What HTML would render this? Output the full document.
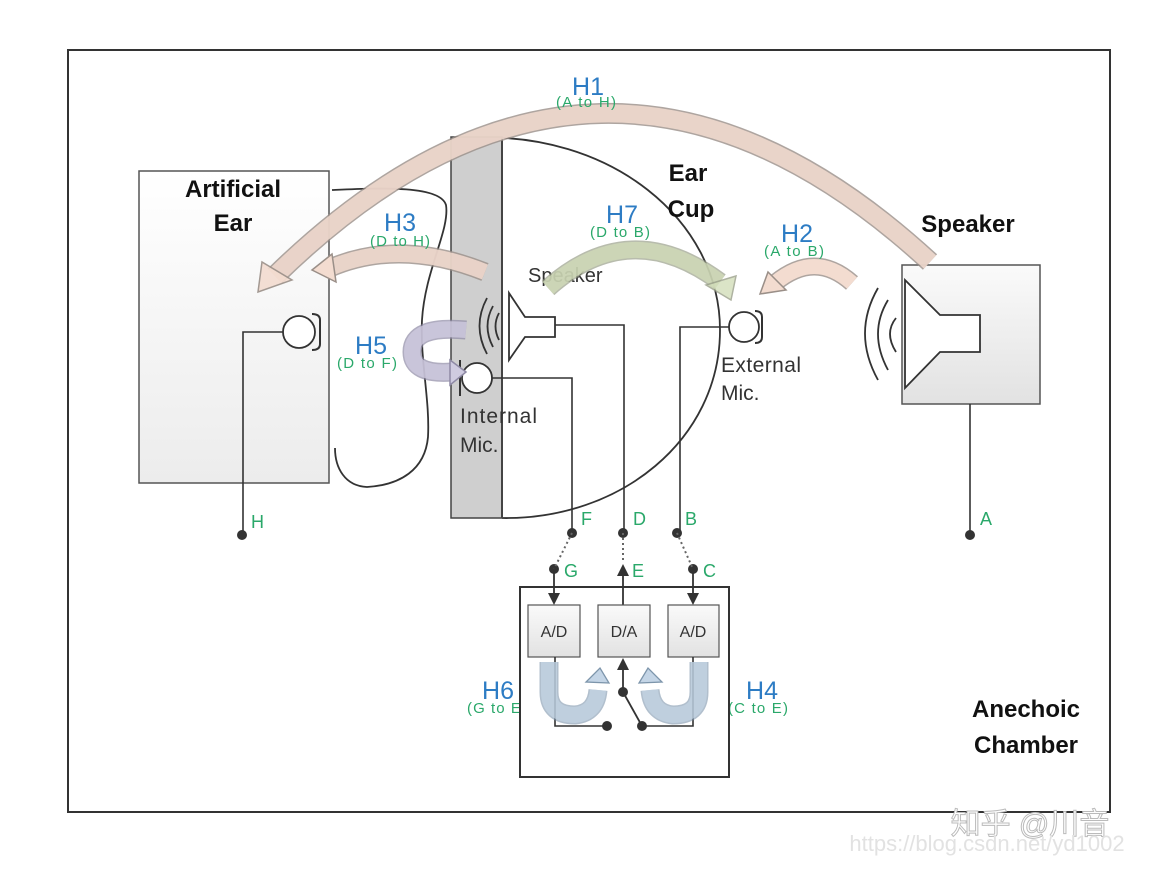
<!DOCTYPE html>
<html><head><meta charset="utf-8"><style>
html,body{margin:0;padding:0;background:#fff;}
svg{display:block;}
text{font-family:"Liberation Sans","Noto Sans CJK SC",sans-serif;}
</style></head><body>
<svg width="1152" height="872" viewBox="0 0 1152 872" xmlns="http://www.w3.org/2000/svg">
<defs>
<linearGradient id="g1" x1="0" y1="0" x2="0" y2="1"><stop offset="0" stop-color="#ffffff"/><stop offset="1" stop-color="#ececec"/></linearGradient>
<linearGradient id="g2" x1="0" y1="0" x2="0" y2="1"><stop offset="0" stop-color="#fafafa"/><stop offset="1" stop-color="#e2e2e2"/></linearGradient>
</defs>
<rect x="0" y="0" width="1152" height="872" fill="#fff"/>
<rect x="68" y="50" width="1042" height="762" fill="#fff" stroke="#333" stroke-width="2"/>

<rect x="139" y="171" width="190" height="312" fill="url(#g1)" stroke="#555" stroke-width="1.5"/>
<text x="233" y="197" font-size="24" font-weight="bold" text-anchor="middle" fill="#111">Artificial</text>
<text x="233" y="231" font-size="24" font-weight="bold" text-anchor="middle" fill="#111">Ear</text>

<path d="M332 190 C380 188 440 185 446 205 C450 230 425 270 422 320 C420 360 430 400 428 437 C425 470 400 485 367 487 C345 486 335 468 335 448" fill="none" stroke="#333" stroke-width="1.8"/>

<path d="M470 138 C610 130 720 220 720 330 C720 440 620 520 502 518" fill="none" stroke="#333" stroke-width="1.8"/>
<rect x="451" y="137" width="51" height="381" fill="#cfcfcf" stroke="#444" stroke-width="1.5"/>
<line x1="502" y1="137" x2="502" y2="518" stroke="#444" stroke-width="2"/>
<text x="688" y="181" font-size="24" font-weight="bold" text-anchor="middle" fill="#111">Ear</text>
<text x="691" y="217" font-size="24" font-weight="bold" text-anchor="middle" fill="#111">Cup</text>

<polygon points="509,293 525,317 555,317 555,337 525,337 509,360" fill="#fff" stroke="#333" stroke-width="1.8"/>
<path d="M499 313 Q492 326 499 340 M493 306 Q482 326 493 347 M487 298 Q472 326 487 354" fill="none" stroke="#333" stroke-width="1.8"/>
<polyline points="555,325 624,325 624,533" fill="none" stroke="#333" stroke-width="1.6"/>
<text x="528" y="282" font-size="20" fill="#333">Speaker</text>

<line x1="460" y1="360" x2="460" y2="396" stroke="#333" stroke-width="2"/>
<circle cx="477" cy="378" r="15" fill="#fff" stroke="#333" stroke-width="1.8"/>
<polyline points="492,378 572,378 572,533" fill="none" stroke="#333" stroke-width="1.6"/>
<text x="460" y="423" font-size="21" fill="#333" textLength="77">Internal</text>
<text x="460" y="452" font-size="21" fill="#333">Mic.</text>

<circle cx="299" cy="332" r="16" fill="#fff" stroke="#333" stroke-width="1.8"/>
<path d="M312 314 Q320 314 320 320 L320 344 Q320 350 312 350" fill="none" stroke="#333" stroke-width="2"/>
<polyline points="283,332 243,332 243,535" fill="none" stroke="#333" stroke-width="1.6"/>

<circle cx="744" cy="327" r="15" fill="#fff" stroke="#333" stroke-width="1.8"/>
<path d="M755 311 Q762 311 762 317 L762 337 Q762 343 755 343" fill="none" stroke="#333" stroke-width="2"/>
<polyline points="729,327 680,327 680,533" fill="none" stroke="#333" stroke-width="1.6"/>
<text x="721" y="372" font-size="21" fill="#333" textLength="80">External</text>
<text x="721" y="400" font-size="21" fill="#333">Mic.</text>

<rect x="902" y="265" width="138" height="139" fill="url(#g2)" stroke="#555" stroke-width="1.5"/>
<polygon points="905,280 940,315 980,315 980,352 940,352 905,388" fill="#fff" stroke="#333" stroke-width="1.8"/>
<path d="M896 318 Q884 333 896 352 M888 300 Q868 333 888 370 M878 288 Q852 333 878 380" fill="none" stroke="#333" stroke-width="1.8"/>
<line x1="970" y1="404" x2="970" y2="535" stroke="#333" stroke-width="1.6"/>
<text x="968" y="232" font-size="24" font-weight="bold" text-anchor="middle" fill="#111">Speaker</text>

<path d="M930 262 Q600 -42 275 276" fill="none" stroke="#9a8f88" stroke-width="21" opacity="0.8"/>
<path d="M930 262 Q600 -42 275 276" fill="none" stroke="#f3dcd0" stroke-width="18" opacity="0.85"/>
<polygon points="258,292 262,262 292,280" fill="#f3dcd0" stroke="#9a8f88" stroke-width="1.5" opacity="0.9"/>
<path d="M485 272 Q400 238 330 268" fill="none" stroke="#9a8f88" stroke-width="19" opacity="0.8"/>
<path d="M485 272 Q400 238 330 268" fill="none" stroke="#f3dcd0" stroke-width="16" opacity="0.85"/>
<polygon points="312,270 332,254 336,282" fill="#f3dcd0" stroke="#9a8f88" stroke-width="1.5"/>
<path d="M548 288 Q630 215 720 282" fill="none" stroke="#9aa08a" stroke-width="19" opacity="0.7"/>
<path d="M548 288 Q630 215 720 282" fill="none" stroke="#d3deba" stroke-width="16" opacity="0.75"/>
<polygon points="731,300 706,285 736,276" fill="#d3deba" stroke="#9aa08a" stroke-width="1.5" opacity="0.8"/>
<path d="M852 283 Q815 250 775 283" fill="none" stroke="#9a8f88" stroke-width="18" opacity="0.8"/>
<path d="M852 283 Q815 250 775 283" fill="none" stroke="#f3dcd0" stroke-width="15"/>
<polygon points="760,294 768,272 786,290" fill="#f3dcd0" stroke="#9a8f88" stroke-width="1.5"/>
<path d="M466 330 Q412 325 412 352 Q412 375 452 372" fill="none" stroke="#8f8aa5" stroke-width="19" opacity="0.7"/>
<path d="M466 330 Q412 325 412 352 Q412 375 452 372" fill="none" stroke="#cfcbe0" stroke-width="16" opacity="0.8"/>
<polygon points="466,372 450,360 450,385" fill="#cfcbe0" stroke="#8f8aa5" stroke-width="1.5"/>

<g fill="#2d7cc4" font-size="25" text-anchor="middle">
<text x="588" y="95">H1</text><text x="400" y="231">H3</text><text x="622" y="223">H7</text>
<text x="797" y="242">H2</text><text x="371" y="354">H5</text><text x="498" y="699">H6</text><text x="762" y="699">H4</text>
</g>
<g fill="#2aa86a" font-size="15" text-anchor="middle">
<text x="586" y="107" textLength="60">(A to H)</text><text x="400" y="246" textLength="60">(D to H)</text><text x="620" y="237" textLength="60">(D to B)</text>
<text x="794" y="256" textLength="60">(A to B)</text><text x="367" y="368" textLength="60">(D to F)</text><text x="497" y="713" textLength="60">(G to E)</text><text x="758" y="713" textLength="60">(C to E)</text>
</g>
<g fill="#2aa86a" font-size="18">
<text x="251" y="528">H</text><text x="581" y="525">F</text><text x="633" y="525">D</text><text x="685" y="525">B</text><text x="980" y="525">A</text>
<text x="564" y="577">G</text><text x="632" y="577">E</text><text x="703" y="577">C</text>
</g>

<g fill="#333">
<circle cx="242" cy="535" r="5"/><circle cx="970" cy="535" r="5"/>
<circle cx="572" cy="533" r="5"/><circle cx="623" cy="533" r="5"/><circle cx="677" cy="533" r="5"/>
<circle cx="554" cy="569" r="5"/><circle cx="693" cy="569" r="5"/>
</g>
<g stroke="#666" stroke-width="2" stroke-dasharray="2,3" fill="none">
<line x1="572" y1="533" x2="554" y2="569"/><line x1="623" y1="533" x2="623" y2="560"/><line x1="677" y1="533" x2="693" y2="569"/>
</g>

<rect x="520" y="587" width="209" height="190" fill="#fff" stroke="#333" stroke-width="2"/>
<line x1="554" y1="569" x2="554" y2="595" stroke="#333" stroke-width="1.8"/>
<polygon points="548,593 560,593 554,605" fill="#333"/>
<line x1="693" y1="569" x2="693" y2="595" stroke="#333" stroke-width="1.8"/>
<polygon points="687,593 699,593 693,605" fill="#333"/>
<line x1="623" y1="605" x2="623" y2="574" stroke="#333" stroke-width="1.8"/>
<polygon points="617,576 629,576 623,564" fill="#333"/>
<rect x="528" y="605" width="52" height="52" fill="url(#g2)" stroke="#555" stroke-width="1.2"/>
<rect x="598" y="605" width="52" height="52" fill="url(#g2)" stroke="#555" stroke-width="1.2"/>
<rect x="668" y="605" width="51" height="52" fill="url(#g2)" stroke="#555" stroke-width="1.2"/>
<g font-size="16" fill="#333" text-anchor="middle">
<text x="554" y="637">A/D</text><text x="624" y="637">D/A</text><text x="693" y="637">A/D</text>
</g>
<polyline points="555,657 555,726 607,726" fill="none" stroke="#333" stroke-width="1.6"/>
<polyline points="693,657 693,726 642,726" fill="none" stroke="#333" stroke-width="1.6"/>
<line x1="642" y1="726" x2="623" y2="692" stroke="#333" stroke-width="1.8"/>
<line x1="623" y1="692" x2="623" y2="668" stroke="#333" stroke-width="1.8"/>
<polygon points="617,670 629,670 623,658" fill="#333"/>
<g fill="#333"><circle cx="607" cy="726" r="5"/><circle cx="642" cy="726" r="5"/><circle cx="623" cy="692" r="5"/></g>
<path d="M549 662 L549 692 Q549 715 575 715 Q596 713 598 690" fill="none" stroke="#7d95ab" stroke-width="19" opacity="0.6"/>
<path d="M549 662 L549 692 Q549 715 575 715 Q596 713 598 690" fill="none" stroke="#c4d5e6" stroke-width="16" opacity="0.7"/>
<polygon points="609,683 586,682 600,668" fill="#c4d5e6" stroke="#7d95ab" stroke-width="1.3"/>
<path d="M699 662 L699 692 Q699 715 673 715 Q652 713 650 690" fill="none" stroke="#7d95ab" stroke-width="19" opacity="0.6"/>
<path d="M699 662 L699 692 Q699 715 673 715 Q652 713 650 690" fill="none" stroke="#c4d5e6" stroke-width="16" opacity="0.7"/>
<polygon points="639,683 662,682 648,668" fill="#c4d5e6" stroke="#7d95ab" stroke-width="1.3"/>

<text x="1026" y="717" font-size="24" font-weight="bold" text-anchor="middle" fill="#111">Anechoic</text>
<text x="1026" y="753" font-size="24" font-weight="bold" text-anchor="middle" fill="#111">Chamber</text>

<text x="1030" y="834" font-size="30" text-anchor="middle" fill="#fff" stroke="#bbb" stroke-width="1">知乎 @川音</text>
<text x="987" y="851" font-size="22" text-anchor="middle" fill="#e2e2e2">https://blog.csdn.net/yd1002</text>
</svg>
</body></html>
